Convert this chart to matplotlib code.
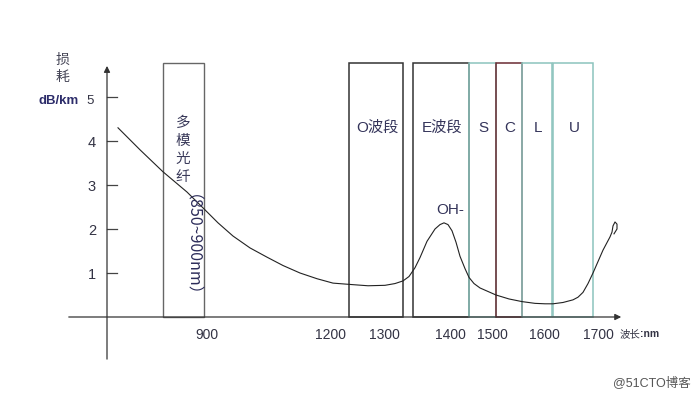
import matplotlib
matplotlib.use('Agg')
import matplotlib.pyplot as plt

plt.rcParams['font.family'] = ['Liberation Sans', 'Noto Sans CJK SC', 'DejaVu Sans']

## schematic x position (not linear in nm) and loss in dB/km
curve_x = [118, 140, 163, 187, 203, 218, 233, 250, 267, 283, 300, 317, 333, 350, 368, 385, 395,
           403, 409, 415, 420, 427, 435, 440, 444, 448, 452, 456, 460, 465, 469, 474, 480, 488,
           496, 509, 522, 535, 545, 553, 563, 573, 578, 583, 588, 593, 598, 603, 610, 612, 613,
           615, 617, 617, 614]
curve_y = [4.30, 3.80, 3.30, 2.84, 2.48, 2.14, 1.84, 1.57, 1.36, 1.17, 1.00, 0.87, 0.77, 0.74,
           0.71, 0.72, 0.76, 0.82, 0.92, 1.12, 1.35, 1.72, 2.00, 2.10, 2.14, 2.10, 1.96, 1.70,
           1.38, 1.10, 0.90, 0.76, 0.66, 0.58, 0.50, 0.41, 0.35, 0.31, 0.30, 0.30, 0.33, 0.39,
           0.45, 0.56, 0.76, 1.00, 1.26, 1.52, 1.82, 1.93, 2.07, 2.16, 2.11, 2.00, 1.89]

band_names = ['O波段', 'E波段', 'S', 'C', 'L', 'U']
band_left = [349, 413, 469, 496, 522, 553]
band_right = [403, 469, 496, 522, 552, 593]
band_edge = ['#333333', '#333333', '#8cc3bd', '#6a2a32', '#8cc3bd', '#8cc3bd']
band_top = 5.77

mm_left, mm_right = 163, 204

x_tick_pos = [207, 330, 384, 450, 492, 544, 598]
x_tick_labels = ['900', '1200', '1300', '1400', '1500', '1600', '1700']
y_ticks = [1, 2, 3, 4, 5]

txt = '#34345a'

fig = plt.figure(figsize=(7, 4), dpi=100)
ax = fig.add_axes([0, 0, 1, 1])
ax.set_xlim(0, 700)
ax.set_ylim(-83 / 44, 317 / 44)
ax.axis('off')

# axes drawn by hand (schematic style)
ax.annotate('', xy=(624, 0), xytext=(66, 0),
            arrowprops=dict(arrowstyle='-|>', color='#333333', lw=0.9, mutation_scale=9))
ax.annotate('', xy=(107, 5.77), xytext=(107, -1.02),
            arrowprops=dict(arrowstyle='-|>', color='#333333', lw=0.9, mutation_scale=9))
for v in y_ticks:
    ax.plot([107, 117], [v, v], color='#444444', lw=0.9)
    if v < 5:
        ax.text(92, v - 0.05, str(v), ha='center', va='center', fontsize=10.5, color='#333344')
ax.text(90, 4.9, '5', ha='center', va='center', fontsize=9.5, color='#333344')
ax.text(59, 4.9, 'dB/km', ha='center', va='center', fontsize=9.5, fontweight='bold', color='#2c2c6a')
ax.text(62, 5.85, '损', ha='center', va='center', fontsize=10, color='#444455',
        family=['Noto Sans CJK SC'])
ax.text(62, 5.45, '耗', ha='center', va='center', fontsize=10, color='#444455',
        family=['Noto Sans CJK SC'])

for p, lab in zip(x_tick_pos, x_tick_labels):
    ax.text(p, -0.42, lab, ha='center', va='center', fontsize=10, color='#333344')
ax.text(620, -0.38, '波长', ha='left', va='center', fontsize=7.5, color='#333344',
        family=['Noto Sans CJK SC'])
ax.text(640, -0.38, ':nm', ha='left', va='center', fontsize=7.5, fontweight='bold', color='#333344')

# multimode window
ax.bar((mm_left + mm_right) / 2, band_top, width=mm_right - mm_left, bottom=0,
       facecolor='none', edgecolor='#666666', lw=1.0)
for i, ch in enumerate('多模光纤'):
    ax.text(183, 4.42 - i * 0.41, ch, ha='center', va='center', fontsize=10.5, color='#3a3a5a',
            family=['Noto Sans CJK SC'])
ax.text(183, 1.44, '（850~900nm）', ha='center', va='center', rotation=-90, fontsize=11.5,
        color='#2c2c5a', family=['Noto Sans CJK SC'])

# bands
for name, l, r, ec in zip(band_names, band_left, band_right, band_edge):
    ax.bar((l + r) / 2, band_top, width=r - l, bottom=0, facecolor='none', edgecolor=ec, lw=1.1)
    ax.text((l + r) / 2 + 1, 4.3, name, ha='center', va='center', fontsize=11, color=txt,
            family=['Liberation Sans', 'Noto Sans CJK SC'])

ax.plot(curve_x, curve_y, color='#222222', lw=0.8)
ax.text(450, 2.43, 'OH-', ha='center', va='center', fontsize=11, color=txt)

ax.text(652, -1.5, '@51CTO博客', ha='center', va='center', fontsize=9, color='#555555',
        family=['Liberation Sans', 'Noto Sans CJK SC'])

fig.savefig('out.png', dpi=100, facecolor='white')
